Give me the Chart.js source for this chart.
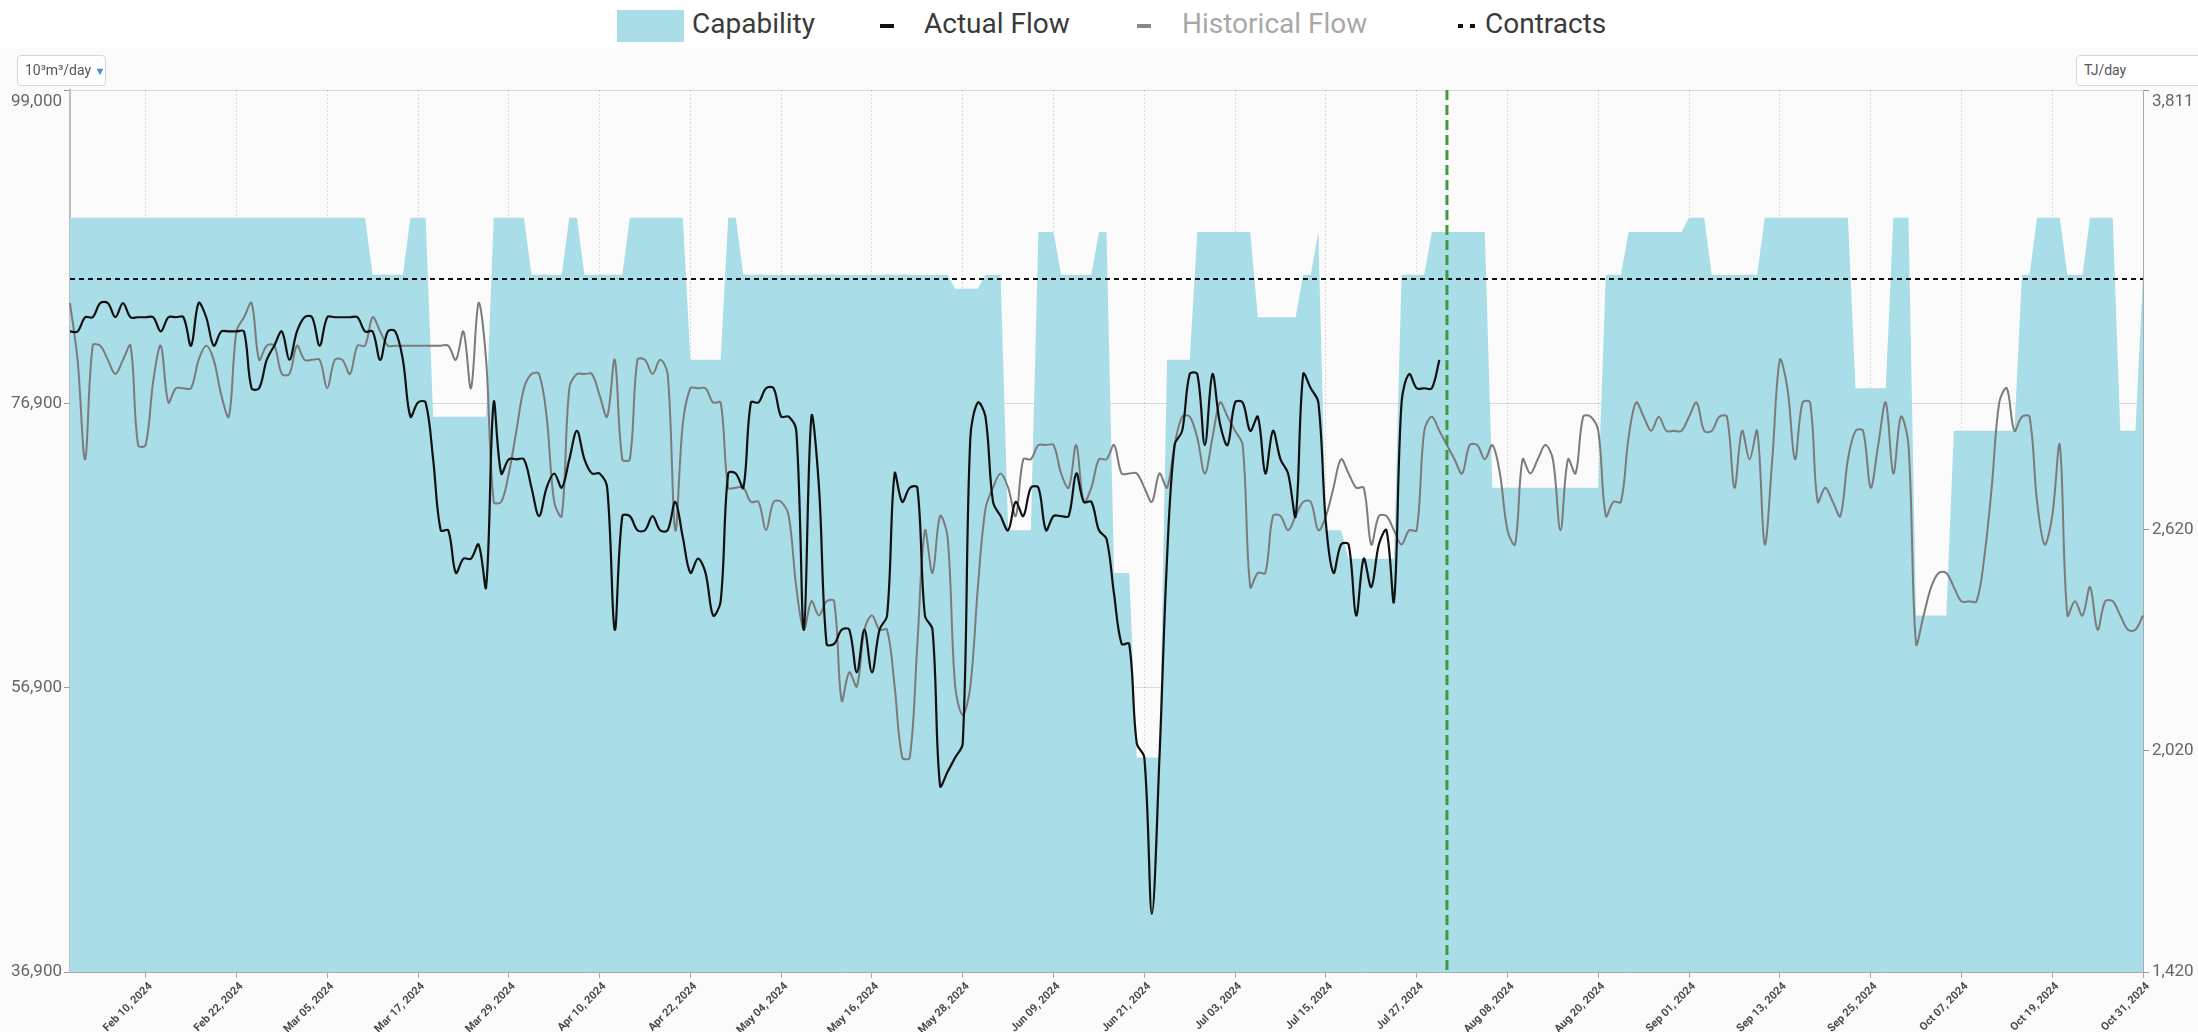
<!DOCTYPE html>
<html>
<head>
<meta charset="utf-8">
<script src="https://cdn.jsdelivr.net/npm/chart.js@4.4.1/dist/chart.umd.min.js"></script>
<style>
html,body{margin:0;padding:0;width:2198px;height:1032px;overflow:hidden;background:#fbfbfb;font-family:Roboto,"Open Sans",sans-serif}
#wrap{position:relative;width:2198px;height:1032px}
#c{position:absolute;left:0;top:0}
#legend{position:absolute;left:0;top:0;width:2198px;height:48px;background:#fff}
.lt{position:absolute;top:4px;font-size:28px;line-height:40px;color:#3a3a3a;white-space:nowrap}
.mk{position:absolute}
.unit{position:absolute;top:55px;height:31px;box-sizing:border-box;border:1px solid #d6d6d6;border-radius:4px;background:#fff;font-size:14px;line-height:29px;color:#555;padding-left:7px;white-space:nowrap}
</style>
</head>
<body>
<div id="wrap">
  <canvas id="c" width="2198" height="1032"></canvas>
  <div id="legend">
    <div class="mk" style="left:617px;top:10px;width:67px;height:32px;background:#a9dde8"></div>
    <div class="lt" style="left:692px">Capability</div>
    <div class="mk" style="left:880px;top:24px;width:14px;height:4px;background:#111"></div>
    <div class="lt" style="left:924px">Actual Flow</div>
    <div class="mk" style="left:1137px;top:24px;width:14px;height:4px;background:#8a8a8a"></div>
    <div class="lt" style="left:1182px;color:#a8a8a8">Historical Flow</div>
    <div class="mk" style="left:1458px;top:24px;width:5px;height:4px;background:#111"></div>
    <div class="mk" style="left:1470px;top:24px;width:5px;height:4px;background:#111"></div>
    <div class="lt" style="left:1485px">Contracts</div>
  </div>
  <div class="unit" style="left:17px;width:89px">10³m³/day <span style="color:#4a8edb;font-size:11px">▼</span></div>
  <div class="unit" style="left:2076px;width:140px">TJ/day</div>
</div>
<script>
// ---------------- DATA ----------------
const START_DATE = '2024-01-31';
const DAY_COUNT = 275;
const xTickLabels = ['Feb 10, 2024','Feb 22, 2024','Mar 05, 2024','Mar 17, 2024','Mar 29, 2024','Apr 10, 2024','Apr 22, 2024','May 04, 2024','May 16, 2024','May 28, 2024','Jun 09, 2024','Jun 21, 2024','Jul 03, 2024','Jul 15, 2024','Jul 27, 2024','Aug 08, 2024','Aug 20, 2024','Sep 01, 2024','Sep 13, 2024','Sep 25, 2024','Oct 07, 2024','Oct 19, 2024','Oct 31, 2024'];
const yLeftTicks = [36900, 56900, 76900, 99000];
const yRightTicks = [1420, 2020, 2620, 3811];
const TODAY_LABEL = 'Jul 31, 2024';
const CONTRACT = 85700;

const capability = [
90000,90000,90000,90000,90000,90000,90000,90000,90000,90000,
90000,90000,90000,90000,90000,90000,90000,90000,90000,90000,
90000,90000,90000,90000,90000,90000,90000,90000,90000,90000,
90000,90000,90000,90000,90000,90000,90000,90000,90000,90000,
86000,86000,86000,86000,86000,90000,90000,90000,76000,76000,
76000,76000,76000,76000,76000,76000,90000,90000,90000,90000,
90000,86000,86000,86000,86000,86000,90000,90000,86000,86000,
86000,86000,86000,86000,90000,90000,90000,90000,90000,90000,
90000,90000,80000,80000,80000,80000,80000,90000,90000,86000,
86000,86000,86000,86000,86000,86000,86000,86000,86000,86000,
86000,86000,86000,86000,86000,86000,86000,86000,86000,86000,
86000,86000,86000,86000,86000,86000,86000,85000,85000,85000,
85000,86000,86000,86000,68000,68000,68000,68000,89000,89000,
89000,86000,86000,86000,86000,86000,89000,89000,65000,65000,
65000,52000,52000,52000,52000,80000,80000,80000,80000,89000,
89000,89000,89000,89000,89000,89000,89000,83000,83000,83000,
83000,83000,83000,86000,86000,89000,68000,68000,68000,66000,
66000,66000,66000,66000,66000,66000,86000,86000,86000,86000,
89000,89000,89000,89000,89000,89000,89000,89000,71000,71000,
71000,71000,71000,71000,71000,71000,71000,71000,71000,71000,
71000,71000,71000,86000,86000,86000,89000,89000,89000,89000,
89000,89000,89000,89000,90000,90000,90000,86000,86000,86000,
86000,86000,86000,86000,90000,90000,90000,90000,90000,90000,
90000,90000,90000,90000,90000,90000,78000,78000,78000,78000,
78000,90000,90000,90000,62000,62000,62000,62000,62000,75000,
75000,75000,75000,75000,75000,75000,75000,75000,86000,86000,
90000,90000,90000,90000,86000,86000,86000,90000,90000,90000,
90000,75000,75000,75000,86000
];

const actualFlow = [
82000,82000,83000,83000,84000,84000,83000,84000,83000,83000,
83000,83000,82000,83000,83000,83000,81000,84000,83000,81000,
82000,82000,82000,82000,78000,78000,80000,81000,82000,80000,
82000,83000,83000,81000,83000,83000,83000,83000,83000,82000,
82000,80000,82000,82000,80000,76000,77000,77000,73000,68000,
68000,65000,66000,66000,67000,64000,77000,72000,73000,73000,
73000,71000,69000,71000,72000,71000,73000,75000,73000,72000,
72000,71000,61000,69000,69000,68000,68000,69000,68000,68000,
70000,67500,65000,66000,65000,62000,63000,72000,72000,71000,
77000,77000,78000,78000,76000,76000,75000,61000,76000,71000,
60000,60000,61000,61000,58000,61000,58000,61000,62000,72000,
70000,71000,71000,62000,61000,50000,51000,52000,53000,74500,
77000,76000,70000,69000,68000,70000,69000,71000,71000,68000,
69000,69000,69000,72000,70000,70000,68000,67400,63500,60000,
60000,53000,52000,41000,52000,66000,74000,75000,79000,79000,
74000,79000,75500,74000,77000,77000,75000,76000,72000,75000,
73000,72000,69000,79000,78000,77000,68500,65000,67000,67000,
62000,66000,64000,67000,68000,63000,77000,79000,78000,78000,
78000,80000
];

const historicalFlow = [
84000,80000,73000,81000,81000,80000,79000,80000,81000,74000,
74000,78500,81000,77000,78000,78000,78000,80000,81000,80000,
77500,76000,82000,83000,84000,80000,81000,81000,79000,79000,
81000,80000,80000,80000,78000,80000,80000,79000,81000,81000,
83000,82000,81000,81000,81000,81000,81000,81000,81000,81000,
81000,80000,82000,78000,84000,80000,70000,70000,72000,75000,
78000,79000,79000,76000,70000,69000,78000,79000,79000,79000,
77500,76000,80000,73000,73000,80000,80000,79000,80000,79000,
68000,75500,78000,78000,78000,77000,77000,71000,71000,71000,
70000,70000,68000,70000,70000,69000,64000,61000,63000,62000,
63000,63000,56000,58000,57000,61000,62000,61000,61000,57000,
52000,52000,60000,68000,65000,69000,67500,57000,55000,57000,
64000,69500,71000,72000,71000,69000,73000,73000,74000,74000,
74000,72000,71000,74000,70000,71000,73000,73000,74000,72000,
72000,72000,71000,70000,72000,71000,74000,76000,76000,74500,
72000,74500,77000,76000,75000,74000,64000,65000,65000,69000,
69000,68000,69000,70000,70000,68000,69000,71000,73000,72000,
71000,71000,67000,69000,69000,68000,67000,68000,68000,75000,
76000,75000,74000,73000,72000,74000,74000,73000,74000,72000,
68000,67000,73000,72000,73000,74000,73000,68000,73000,72000,
76000,76000,75000,69000,70000,70000,74500,77000,76000,75000,
76000,75000,75000,75000,76000,77000,75000,75000,76000,76000,
71000,75000,73000,75000,67000,73000,80000,78000,73000,77000,
77000,70000,71000,70000,69000,73000,75000,75000,71000,74000,
77000,72000,76000,74000,60000,62000,64000,65000,65000,64000,
63000,63000,63000,66000,71000,77000,78000,75000,76000,76000,
70000,67000,69000,74000,62000,63000,62000,64000,61000,63000,
63000,62000,61000,61000,62000
];

// ---------------- CATEGORIES ----------------
const MONTHS = ['Jan','Feb','Mar','Apr','May','Jun','Jul','Aug','Sep','Oct','Nov','Dec'];
const dates = [];
(function(){
  const t0 = Date.parse(START_DATE + 'T00:00:00Z');
  for (let i = 0; i < DAY_COUNT; i++) {
    const d = new Date(t0 + i * 86400000);
    dates.push(MONTHS[d.getUTCMonth()] + ' ' + String(d.getUTCDate()).padStart(2,'0') + ', ' + d.getUTCFullYear());
  }
})();
const xTickIdx = xTickLabels.map(l => dates.indexOf(l));

const fmt = v => v.toLocaleString('en-US');

// ---------------- PLUGINS ----------------
const yLabelPlugin = {
  id: 'yLabels',
  afterDraw(chart) {
    const ctx = chart.ctx;
    ctx.save();
    ctx.font = '17px Roboto';
    ctx.fillStyle = '#666';
    ctx.textBaseline = 'middle';
    const y = chart.scales.y;
    ctx.textAlign = 'right';
    yLeftTicks.forEach(v => {
      let py = y.getPixelForValue(v);
      if (v === y.max) py += 12;
      ctx.fillText(fmt(v), y.right - 8, py);
    });
    const y2 = chart.scales.y2;
    ctx.textAlign = 'left';
    yRightTicks.forEach(v => {
      let py = y2.getPixelForValue(v);
      if (v === y2.max) py += 12;
      ctx.fillText(fmt(v), y2.left + 9, py);
    });
    ctx.restore();
  }
};
const todayPlugin = {
  id: 'todayLine',
  afterDatasetsDraw(chart) {
    const x = chart.scales.x.getPixelForValue(dates.indexOf(TODAY_LABEL));
    const a = chart.chartArea;
    const ctx = chart.ctx;
    ctx.save();
    ctx.strokeStyle = '#3f9a3f';
    ctx.lineWidth = 3;
    ctx.setLineDash([10, 5]);
    ctx.beginPath();
    ctx.moveTo(x, a.top);
    ctx.lineTo(x, a.bottom);
    ctx.stroke();
    ctx.restore();
  }
};

// ---------------- CHART ----------------
const GRID = 'rgba(0,0,0,0.13)';
new Chart(document.getElementById('c'), {
  type: 'line',
  data: {
    labels: dates,
    datasets: [
      { label: 'Contracts', data: [{x: dates[0], y: CONTRACT}, {x: dates[DAY_COUNT-1], y: CONTRACT}],
        borderColor: '#111', borderWidth: 2, borderDash: [5, 4], pointRadius: 0, fill: false, order: 0, yAxisID: 'y' },
      { label: 'Actual Flow', data: actualFlow, borderColor: '#111', borderWidth: 2.2,
        pointRadius: 0, tension: 0.35, fill: false, order: 1, yAxisID: 'y' },
      { label: 'Historical Flow', data: historicalFlow, borderColor: '#7b7b7b', borderWidth: 2,
        pointRadius: 0, tension: 0.35, fill: false, order: 2, yAxisID: 'y' },
      { label: 'Capability', data: capability, borderColor: 'rgba(0,0,0,0)', borderWidth: 0,
        backgroundColor: '#a9dde8', pointRadius: 0, tension: 0, fill: 'start', order: 3, yAxisID: 'y' }
    ]
  },
  options: {
    responsive: false,
    animation: false,
    devicePixelRatio: 1,
    layout: { padding: { top: 90, left: 0, right: 0, bottom: 0 } },
    plugins: { legend: { display: false }, tooltip: { enabled: false } },
    scales: {
      x: {
        type: 'category',
        offset: false,
        z: 1,
        afterBuildTicks(s) { s.ticks = xTickIdx.map(v => ({ value: v })); },
        afterFit(s) { s.height = 60; },
        grid: { color: GRID, borderDash: [3, 3], tickBorderDash: [], tickColor: '#aaa', tickLength: 6, drawTicks: true },
        border: { display: true, color: '#aaa', dash: [2, 2] },
        ticks: { autoSkip: false, maxRotation: 45, minRotation: 45, padding: 2, labelOffset: 5,
                 color: '#4a4a4a', font: { family: 'Roboto', size: 11, weight: 'bold' } }
      },
      y: {
        position: 'left',
        min: 36900, max: 99000,
        z: 1,
        afterBuildTicks(s) { s.ticks = yLeftTicks.map(v => ({ value: v })); },
        afterFit(s) { s.width = 70; },
        grid: { color: GRID, borderDash: [3, 3], tickBorderDash: [], tickColor: '#999', tickLength: 6 },
        border: { display: true, color: '#bdbdbd', width: 2 },
        ticks: { display: false }
      },
      y2: {
        position: 'right',
        min: 1420, max: 3811,
        afterBuildTicks(s) { s.ticks = yRightTicks.map(v => ({ value: v })); },
        afterFit(s) { s.width = 55; },
        grid: { drawOnChartArea: false, tickColor: '#999', tickLength: 6 },
        border: { display: true, color: '#aaa', dash: [2, 2] },
        ticks: { display: false }
      }
    }
  },
  plugins: [yLabelPlugin, todayPlugin]
});
</script>
</body>
</html>
